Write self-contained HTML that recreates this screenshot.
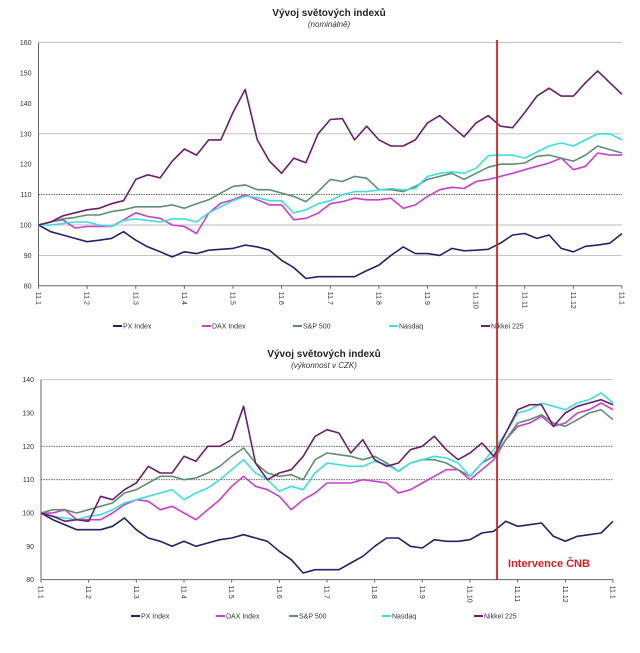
<!DOCTYPE html>
<html><head><meta charset="utf-8"><style>
body{margin:0;background:#fff;width:640px;height:653px;overflow:hidden}
svg{display:block;font-family:"Liberation Sans",sans-serif}
</style></head><body>
<svg id="svg" width="640" height="653" viewBox="0 0 640 653">
<rect width="640" height="653" fill="#fff"/>
</svg>
<script>
const months = ["11.1","11.2","11.3","11.4","11.5","11.6","11.7","11.8","11.9","11.10","11.11","11.12","11.1"];
const seriesNames = ["PX Index","DAX Index","S&P 500","Nasdaq","Nikkei 225"];
const seriesColors = ["#23236b","#cc3fcc","#5f8f72","#3fdede","#6a1f6a"];
const topTicks = [80,90,100,110,120,130,140,150,160];
const bottomTicks = [80,90,100,110,120,130,140];
const eventMonth = 9.43;
const eventLabel = "Intervence ČNB";
const topPX = [100,97.8,96.7,95.6,94.5,95,95.6,97.8,95,92.8,91.2,89.5,91.2,90.6,91.7,92,92.3,93.4,92.8,91.7,88.4,86,82.4,83,83,83,83,85,86.8,90,92.8,90.6,90.6,90,92.3,91.5,91.7,92,94,96.7,97.2,95.6,96.7,92.3,91.2,93,93.4,94,97.2];
const topDAX = [100,101,101.7,99,99.5,99.5,99.5,101.7,104,102.8,102.2,100,99.5,97.2,103.9,107.2,108.3,110,108.3,106.6,106.6,101.7,102.2,103.9,107,107.7,108.8,108.3,108.3,108.8,105.5,106.6,109.4,111.6,112.4,112,114.3,115,116,117,118.2,119.3,120.4,122,118.2,119.3,123.7,123,123];
const topSP = [100,101,102,102.5,103.3,103.3,104.4,105,106,106,106,106.6,105.5,107,108.3,110.5,112.7,113.2,111.6,111.6,110.5,109.4,107.7,111,115,114.3,116,115.4,111.6,111.6,111,112.7,115,116,117,115,117,119,120,120,120.4,122.6,123,122,121,123,126,124.8,123.7];
const topNasdaq = [100,100,100.5,101,101,100,99.5,101.5,102,101.5,101,102,102,101,104,106,108,109.5,109,108,108,104,105,107,108,110,111,111,111.5,112,111.5,112,116,117,117.5,117,118.7,122.8,123,123,122,124,126,127,126,128,130,130,128];
const topNikkei = [100,101,103,104,105,105.5,107,108,115,116.5,115.5,121,125,123,128,128,137,144.6,128,121,117,122,120.5,130,134.7,135,128,132.5,128,126,126,128,133.6,136,132.5,129,133.6,136,132.5,132,137,142.4,145,142.4,142.4,146.8,150.7,146.8,143];
const botPX = [100,98,96.5,95,95,95,96,98.5,95,92.5,91.5,90,91.5,90,91,92,92.5,93.5,92.5,91.5,88.5,86,82,83,83,83,85,87,90,92.5,92.5,90,89.5,92,91.5,91.5,92,94,94.5,97.5,96,96.5,97,93,91.5,93,93.5,94,97.5];
const botDAX = [100,100,101,98,98,98,100,102.5,104,103.5,101,102,100,98,101,104,108,111,108,107,105,101,104,106,109,109,109,110,109.5,109,106,107,109,111,113,113,110,113,116,122,126,127,129,126,127,130,131,133,131];
const botSP = [100,101,101,100,101,102,103,106,107,109,111,111,110,110.5,112,114,117,119.5,115,112,111,111.5,110,116,118,117.5,117,116,117,115,112.5,115,116,116,115,113,111,115,117,122,127,128,129.5,127,126,128,130,131,128];
const botNasdaq = [100,99,98.5,98,99,99.5,101,103,104,105,106,107,104,106,107.5,110,113,116,112,110,106.5,108,107,112,115,114.5,114,114,115.5,114.5,112.5,115,116,117,116.5,115,111,115,119,124,130,131,133,132,131,133,134,136,133];
const botNikkei = [100,99,97.5,98,97.5,105,104,107,109,114,112,112,117,115.5,120,120,122,132,115,110,112,113,117,123,125,124,118,122,116,114,115,119,120,123,119,116,118,121,117,124,131,132.5,132.5,126,130,132,133,134,132.5];

const NS="http://www.w3.org/2000/svg";
const svg=document.getElementById('svg');
function el(tag,attrs,parent){const e=document.createElementNS(NS,tag);for(const k in attrs)e.setAttribute(k,attrs[k]);(parent||svg).appendChild(e);return e;}

function drawChart(c){
  const g=el('g',{});
  
  
  const xs=m=>c.x0+(c.x1-c.x0)*m/12;
  const ys=v=>c.y100-(v-100)*c.k;
  const t=el('text',{x:c.cx,y:c.titleY,'text-anchor':'middle','font-size':'10','font-weight':'bold',fill:'#222'},g);
  t.textContent="Vývoj světových indexů";
  
  
  const st=el('text',{x:c.cx,y:c.titleY+11,'text-anchor':'middle','font-size':'8','font-style':'italic',fill:'#333'},g);
  st.textContent=c.subtitle;
  
  
  c.ticks.forEach(v=>{
    const y=ys(v);
    const dark=c.darkLines.includes(v);
    if(c.gridLines.includes(v)){
      const ln=el('line',{x1:c.x0,x2:c.x1,y1:y,y2:y,stroke:dark?'#555':'#bbb','stroke-width':0.9,'stroke-dasharray':dark?'1.5 1':'none'},g);
      
      
    }
    const tl=el('text',{x:c.x0-7,y:y+2.5,'text-anchor':'end','font-size':'7',fill:'#333'},g);
    tl.textContent=v;
    
    
  });
  const ax=el('line',{x1:c.x0,x2:c.x0,y1:ys(c.ticks[c.ticks.length-1]),y2:ys(c.ticks[0]),stroke:'#666','stroke-width':1},g);
  
  
  const bx=el('line',{x1:c.x0,x2:c.x1,y1:ys(c.ticks[0]),y2:ys(c.ticks[0]),stroke:'#666','stroke-width':1},g);
  
  
  months.forEach((m,i)=>{
    const x=xs(i);
    const tk=el('line',{x1:x,x2:x,y1:ys(c.ticks[0]),y2:ys(c.ticks[0])+3,stroke:'#666'},g);
    
    
    const tl=el('text',{x:0,y:0,'font-size':'7',fill:'#333',transform:`translate(${x-2.5},${ys(c.ticks[0])+6}) rotate(90)`},g);
    tl.textContent=m;
    
    
  });
  c.series.forEach((d,si)=>{
    const pts=d.map((v,i)=>xs(i*12/(d.length-1)).toFixed(1)+','+ys(v).toFixed(1)).join(' ');
    const pl=el('polyline',{points:pts,fill:'none',stroke:seriesColors[si],'stroke-width':1.6,'stroke-linejoin':'round'},g);
    
    
  });
  c.legendX.forEach((lx,si)=>{
    const lg=el('g',{},g);
    
    
    el('line',{x1:lx,x2:lx+9,y1:c.legendY,y2:c.legendY,stroke:seriesColors[si],'stroke-width':2},lg);
    const lt=el('text',{x:lx+10,y:c.legendY+2.5,'font-size':'7',fill:'#333'},lg);
    lt.textContent=seriesNames[si];
  });
}

drawChart({name:'chart-nominal',subtitle:'(nominálně)',cx:329,titleY:16,x0:38.5,x1:622,y100:225,k:3.04,
  ticks:topTicks,gridLines:[90,100,110,130,160],darkLines:[110],legendY:326,legendX:[113,202,293,389,481],
  series:[topPX,topDAX,topSP,topNasdaq,topNikkei]});
drawChart({name:'chart-czk',subtitle:'(výkonnost v CZK)',cx:324,titleY:357,x0:41,x1:613,y100:513,k:3.333,
  ticks:bottomTicks,gridLines:[110,120,140],darkLines:[110,120],legendY:616,legendX:[131,216,289,382,474],
  series:[botPX,botDAX,botSP,botNasdaq,botNikkei]});

const rx=38.5+(622-38.5)*eventMonth/12;
const rl=el('line',{x1:rx,x2:rx,y1:40,y2:580,stroke:'#d42020','stroke-width':1.8});


const it=el('text',{x:rx+11,y:567,'font-size':'11','font-weight':'bold',fill:'#d42020'});
it.textContent=eventLabel;


</script>
</body></html>
